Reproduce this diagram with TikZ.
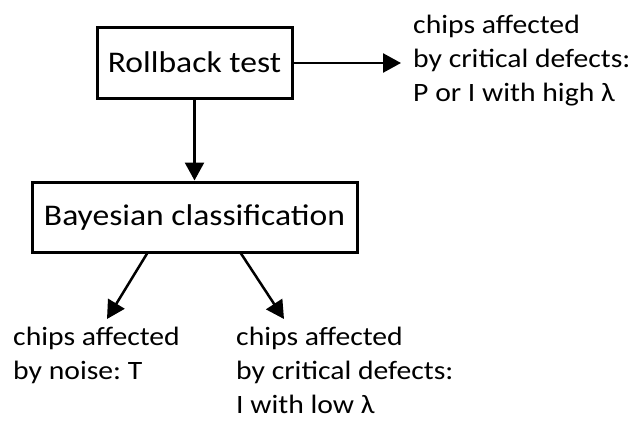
\documentclass[tikz,border=0pt]{standalone}
\usepackage{fontspec}
\setmainfont{Carlito}[FakeStretch=1.12]
\usetikzlibrary{arrows.meta}

\newcommand{\diagfont}{\fontsize{26.5}{34}\selectfont\frenchspacing}
\newcommand{\stagefont}{\fontsize{30}{36}\selectfont}
\tikzset{
  stagebox/.style={draw, line width=3pt, inner sep=0pt, font=\stagefont},
  flow/.style={line width=2.5pt, -{Triangle[length=18pt,width=19pt]}},
  outcome/.style={anchor=base west, inner sep=0pt, font=\diagfont},
}
% stacked lines, baseline of the block = baseline of its first line
\newcommand{\threelines}[3]{\vtop{\hbox{#1}\hbox{#2}\hbox{#3}}}
\newcommand{\twolines}[2]{\vtop{\hbox{#1}\hbox{#2}}}

\begin{document}
\begin{tikzpicture}[x=1pt, y=-1pt]
  \useasboundingbox (0,0) rectangle (636,423);

  % the two stages
  \node[stagebox, minimum width=195pt, minimum height=71pt] (rb) at (194.5,62.5) {Rollback test};
  \node[stagebox, minimum width=325pt, minimum height=70pt] (bc) at (194.5,217) {Bayesian classification};

  % outcome labels
  \node[outcome] (crit1) at (413,33) {\threelines{chips affected}{by critical defects:}{P or I with high λ}};
  \node[outcome] (noise) at (13,345) {\twolines{chips affected}{by noise: T}};
  \node[outcome] (crit2) at (236,345) {\threelines{chips affected}{by critical defects:}{I with low λ}};

  % arrow end points
  \coordinate (e1) at (401,63);
  \coordinate (s2) at (148,252);
  \coordinate (e2) at (107,319);
  \coordinate (s3) at (240,252);
  \coordinate (e3) at (284,319);

  \draw[flow] (rb.east |- e1) -- (e1);
  \draw[flow] (rb.south) -- (bc.north);
  \draw[flow] (s2) -- (e2);
  \draw[flow] (s3) -- (e3);
\end{tikzpicture}
\end{document}
